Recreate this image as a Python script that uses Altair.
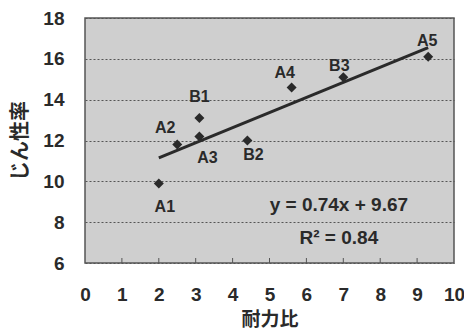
import altair as alt
import pandas as pd

labels = ["A1", "A2", "B1", "A3", "B2", "A4", "B3", "A5"]
x_vals = [2.0, 2.5, 3.1, 3.1, 4.4, 5.6, 7.0, 9.3]
y_vals = [9.9, 11.8, 13.1, 12.2, 12.0, 14.6, 15.1, 16.1]
slope = 0.74
intercept = 9.67
r2 = 0.84
x_ticks = [0, 1, 2, 3, 4, 5, 6, 7, 8, 9, 10]
y_ticks = [6, 8, 10, 12, 14, 16, 18]

# label offsets (pixels) - styling, not data
offsets = {"A1": (6, 24), "A2": (-12, -17), "B1": (0, -21), "A3": (8, 22),
           "B2": (6, 14), "A4": (-7, -14), "B3": (-4, -11), "A5": (-1, -16)}

W, H = 369, 245
FONT = "Liberation Sans"
JFONT = "Noto Sans CJK JP"
INK = "#2a2a2a"

pts = pd.DataFrame({"label": labels, "x": x_vals, "y": y_vals})
xmin, xmax = min(x_vals), max(x_vals)
fit = pd.DataFrame({"x": [xmin, xmax],
                    "y": [slope * xmin + intercept, slope * xmax + intercept]})

xs = alt.Scale(domain=[0, 10], nice=False, zero=False)
ys = alt.Scale(domain=[6, 18], nice=False, zero=False)

xaxis = alt.Axis(values=x_ticks, tickCount=11, grid=False, ticks=False,
                 domain=False,
                 labelFont=FONT, labelFontSize=19, labelFontWeight="bold",
                 labelColor=INK, labelPadding=22, labelFlush=False,
                 labelOverlap=False, labelBound=False,
                 title="耐力比", titleFont=JFONT, titleFontSize=19,
                 titleFontWeight="bold", titleColor=INK,
                 titleX=W / 2, titleY=56, titleBaseline="middle")
yaxis = alt.Axis(values=y_ticks, grid=True, gridColor="#555555",
                 gridDash=[2, 2], gridWidth=1, ticks=False, domain=False,
                 labelFont=FONT, labelFontSize=19, labelFontWeight="bold",
                 labelColor=INK, labelPadding=21, labelFlush=False,
                 labelOverlap=False, labelBound=False,
                 title="じん性率", titleFont=JFONT, titleFontSize=20,
                 titleFontWeight="bold", titleColor=INK,
                 titleX=-65, titleY=H / 2, titleBaseline="middle",
                 titleAngle=270)

X = lambda f: alt.X(f, scale=xs, axis=xaxis)
Y = lambda f: alt.Y(f, scale=ys, axis=yaxis)

base = alt.Chart(pts)

tick_df = pd.DataFrame({"x": x_ticks[1:-1], "y0": [y_ticks[0]] * 9})
ticks = alt.Chart(tick_df).mark_rule(color="#555555", strokeWidth=1).encode(
    x=X("x:Q"), y=Y("y0:Q"), y2=alt.value(H - 5))

points = base.mark_point(shape="diamond", filled=True, size=100,
                         color=INK, opacity=1).encode(x=X("x:Q"), y=Y("y:Q"))

line = alt.Chart(fit).mark_line(color=INK, strokeWidth=3).encode(
    x=X("x:Q"), y=Y("y:Q"))

text_layers = []
for lab, (dx, dy) in offsets.items():
    text_layers.append(
        base.transform_filter(alt.datum.label == lab).mark_text(
            dx=dx, dy=dy, font=FONT, fontSize=16, fontWeight="bold",
            color=INK, baseline="middle", align="center").encode(
            x=X("x:Q"), y=Y("y:Q"), text="label:N"))

ann = pd.DataFrame({
    "x": [6.88, 6.88],
    "y": [8.83, 7.22],
    "t": [f"y = {slope:.2f}x + {intercept:.2f}", f"R² = {r2:.2f}"],
})
ann_text = alt.Chart(ann).mark_text(font=FONT, fontSize=19, fontWeight="bold",
                                    color=INK, baseline="middle").encode(
    x=X("x:Q"), y=Y("y:Q"), text="t:N")

chart = alt.layer(ticks, line, points, ann_text, *text_layers).properties(
    width=W, height=H,
    autosize=alt.AutoSizeParams(type="none"),
    padding={"left": 77, "top": 10, "right": 10, "bottom": 65},
    background="white",
).configure_view(fill="#cfcfcf", stroke="#555555", strokeWidth=1.5)

chart.save("out.html", embed_options={"renderer": "svg", "actions": False})
